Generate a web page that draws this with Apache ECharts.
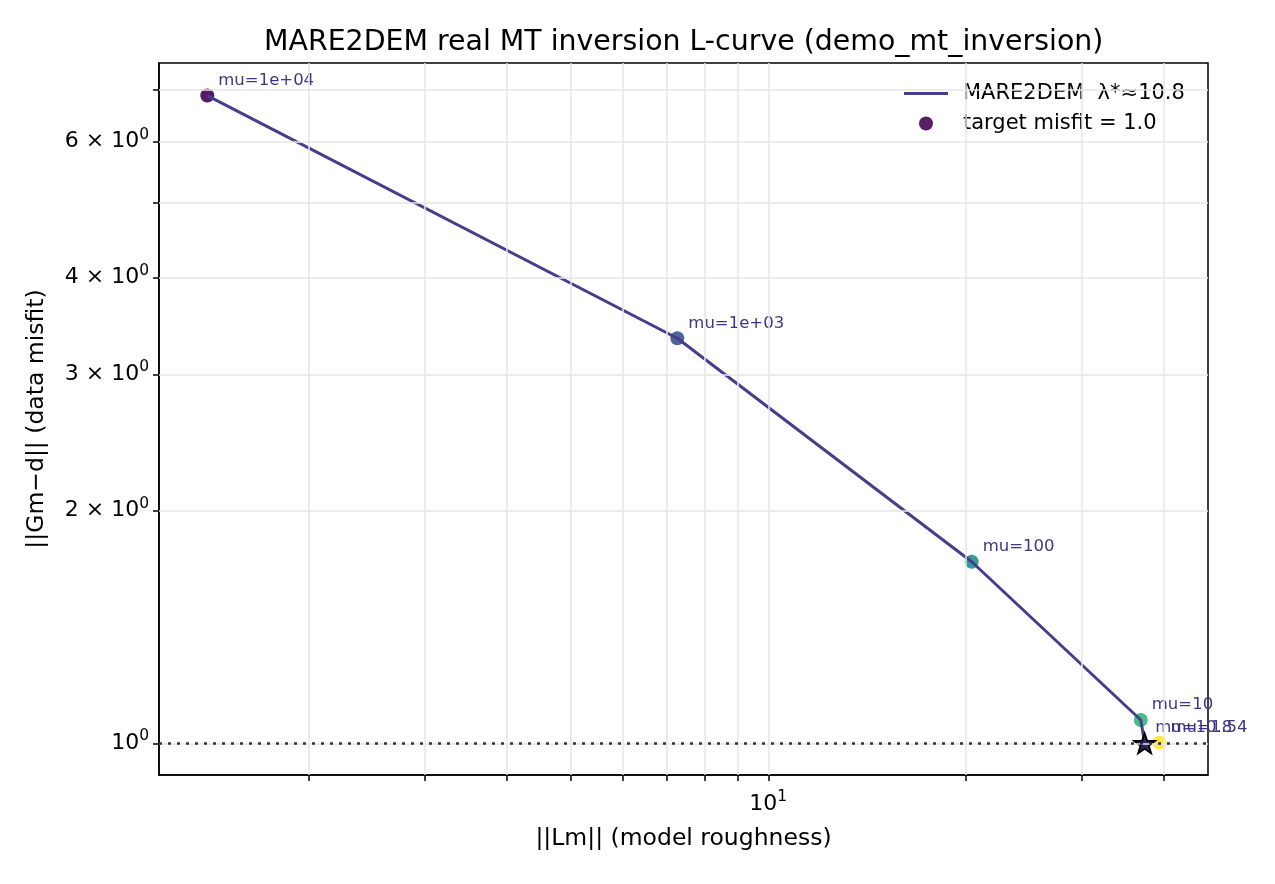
<!DOCTYPE html>
<html>
<head>
<meta charset="utf-8">
<script src="https://cdn.jsdelivr.net/npm/echarts@6/dist/echarts.min.js"></script>
<style>
  html, body { margin: 0; padding: 0; background: #fff; }
  #main { width: 1275px; height: 884px; }
</style>
</head>
<body>
<div id="main"></div>
<script>
// L-curve points
var roughness = [1.40, 7.27, 20.4, 36.9, 39.4];
var misfit = [6.88, 3.34, 1.717, 1.072, 1.002];
var muLabels = ['mu=1e+04', 'mu=1e+03', 'mu=100', 'mu=10', 'mu=1.54'];
var pointColors = ['#571a65', '#4e6397', '#379c98', '#49be86', '#fde93b'];

// chosen lambda
var bestPoint = [37.4, 1.0];
var bestLabel = 'mu=10.8';
var targetMisfit = 1.0;

// ticks
var xTicks = [2, 3, 4, 5, 6, 7, 8, 9, 10, 20, 30, 40];
var xLabels = [10];
var yTicks = [1, 2, 3, 4, 5, 6, 7];
var yLabels = [1, 2, 3, 4, 6];

var chartDom = document.getElementById('main');
var myChart = echarts.init(chartDom);
var option;

var FONT = 'DejaVu Sans';
var lineColor = '#483d8b';
var labelColor = '#3f3585';

// line goes through the mu points up to mu=10, then to the chosen point
var lineData = [];
for (var i = 0; i < 4; i++) lineData.push([roughness[i], misfit[i]]);
lineData.push(bestPoint);

var scatterData = roughness.map(function (r, i) {
  return {
    value: [r, misfit[i]],
    name: muLabels[i],
    itemStyle: { color: pointColors[i] }
  };
});

var gridLines = [];
xTicks.forEach(function (v) { gridLines.push({ xAxis: v }); });
yTicks.forEach(function (v) { gridLines.push({ yAxis: v }); });

var rich = {
  b: { fontSize: 22, fontFamily: FONT, color: '#000', lineHeight: 30 },
  s: { fontSize: 15.5, fontFamily: FONT, color: '#000', lineHeight: 15, verticalAlign: 'top' }
};

option = {
  animation: false,
  textStyle: { fontFamily: FONT },
  title: {
    text: 'MARE2DEM real MT inversion L-curve (demo_mt_inversion)',
    left: 259,
    top: 24,
    textStyle: { fontSize: 28.4, fontWeight: 'normal', color: '#000', fontFamily: FONT }
  },
  legend: {
    data: [
      { name: 'MARE2DEM  λ*≈10.8', icon: 'path://M0,0 L44,0 L44,3 L0,3 Z' },
      { name: 'target misfit = 1.0', icon: 'circle' }
    ],
    orient: 'vertical',
    left: 899,
    top: 78,
    itemWidth: 44,
    itemHeight: 14,
    itemGap: 9,
    textStyle: { fontSize: 21, color: '#000', fontFamily: FONT, padding: [0, 0, 0, 10] }
  },
  grid: {
    left: 159,
    right: 67,
    top: 63,
    bottom: 109,
    show: true,
    borderColor: '#000',
    borderWidth: 1.5,
    backgroundColor: 'transparent'
  },
  xAxis: {
    type: 'log',
    logBase: 10,
    min: 1.182,
    max: 46.7,
    name: '||Lm|| (model roughness)',
    nameLocation: 'middle',
    nameGap: 52,
    nameTextStyle: { fontSize: 23.5, color: '#000', fontFamily: FONT },
    axisLine: { show: true, lineStyle: { color: '#000', width: 1.5 } },
    axisTick: { show: true, inside: false, length: 6, customValues: xTicks, lineStyle: { color: '#000', width: 1.5 } },
    axisLabel: {
      customValues: xLabels,
      margin: 14,
      formatter: function () { return '{b|10}{s|1}'; },
      rich: rich
    },
    splitLine: { show: false },
    minorTick: { show: false }
  },
  yAxis: {
    type: 'log',
    logBase: 10,
    min: 0.910,
    max: 7.58,
    name: '||Gm−d|| (data misfit)',
    nameLocation: 'middle',
    nameGap: 110,
    nameTextStyle: { fontSize: 23.5, color: '#000', fontFamily: FONT },
    axisLine: { show: true, lineStyle: { color: '#000', width: 1.5 } },
    axisTick: { show: true, inside: false, length: 6, customValues: yTicks, lineStyle: { color: '#000', width: 1.5 } },
    axisLabel: {
      customValues: yLabels,
      margin: 10,
      formatter: function (v) {
        var n = Math.round(v);
        return n === 1 ? '{b|10}{s|0}' : '{b|' + n + ' × 10}{s|0}';
      },
      rich: rich
    },
    splitLine: { show: false },
    minorTick: { show: false }
  },
  series: [
    {
      name: 'gridlines',
      type: 'line',
      data: [],
      z: 0,
      silent: true,
      markLine: {
        silent: true,
        symbol: 'none',
        label: { show: false },
        lineStyle: { color: '#e6e6e6', width: 1.5, type: 'solid' },
        data: gridLines
      }
    },
    {
      name: 'target misfit = 1.0',
      type: 'scatter',
      data: scatterData,
      symbol: 'circle',
      symbolSize: 14,
      z: 2,
      itemStyle: { color: '#5a1e66', opacity: 1 },
      label: {
        show: true,
        position: [18, -8],
        align: 'left',
        verticalAlign: 'middle',
        formatter: '{b}',
        fontSize: 16.5,
        color: labelColor,
        fontFamily: FONT
      }
    },
    {
      name: 'MARE2DEM  λ*≈10.8',
      type: 'line',
      data: lineData,
      symbol: 'none',
      z: 3,
      lineStyle: { color: lineColor, width: 3 },
      itemStyle: { color: lineColor },
      markLine: {
        silent: true,
        symbol: 'none',
        label: { show: false },
        lineStyle: { color: '#333', width: 2.5, type: [3, 6] },
        data: [{ yAxis: targetMisfit }]
      }
    },
    {
      name: 'best',
      type: 'scatter',
      data: [{ value: bestPoint, name: bestLabel }],
      symbol: 'path://M0,-10 L2.35,-3.24 L9.51,-3.09 L3.8,1.24 L5.88,8.09 L0,4 L-5.88,8.09 L-3.8,1.24 L-9.51,-3.09 L-2.35,-3.24 Z',
      symbolKeepAspect: true,
      symbolSize: 21,
      z: 4,
      itemStyle: { color: '#2b2660', opacity: 1, borderColor: '#000', borderWidth: 1.8 },
      label: {
        show: true,
        position: [22, -5],
        align: 'left',
        verticalAlign: 'middle',
        formatter: '{b}',
        fontSize: 16.5,
        color: labelColor,
        fontFamily: FONT
      }
    }
  ]
};

option && myChart.setOption(option);
</script>
</body>
</html>
